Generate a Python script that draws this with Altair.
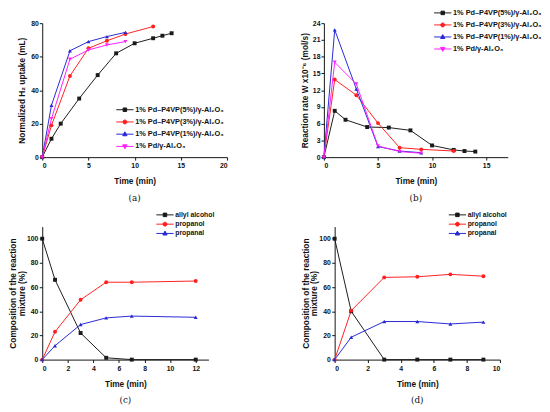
import json
import altair as alt
import pandas as pd

# ---------------- data ----------------
# (a) normalized H2 uptake
a_series = ["1% Pd–P4VP(5%)/γ-Al₂O₃", "1% Pd–P4VP(3%)/γ-Al₂O₃",
            "1% Pd–P4VP(1%)/γ-Al₂O₃", "1% Pd/γ-Al₂O₃"]
a_x5 = [0, 1, 2, 4, 6, 8, 10, 12, 13, 14]
a_y5 = [0, 11, 20, 35, 49, 62, 68, 71, 72.5, 74]
a_x3 = [0, 1, 3, 5, 7, 9, 12]
a_y3 = [0, 19, 48.5, 65, 69.5, 73.5, 78]
a_x1 = [0, 1, 3, 5, 7, 9]
a_y1 = [0, 31, 63.5, 69, 72, 74.5]
a_x0 = [0, 1, 3, 5, 7, 9]
a_y0 = [0, 23, 58.5, 64, 67, 69]

# (b) reaction rate
b_x5 = [0, 1, 2, 4, 6, 8, 10, 12, 13, 14]
b_y5 = [0, 8.3, 6.7, 5.4, 5.3, 4.8, 2.1, 1.3, 1.1, 1.0]
b_x3 = [0, 1, 3, 5, 7, 9, 12]
b_y3 = [0, 13.9, 11.1, 6.1, 1.7, 1.4, 1.1]
b_x1 = [0, 1, 3, 5, 7, 9]
b_y1 = [0, 22.8, 12.2, 1.9, 1.1, 0.8]
b_x0 = [0, 1, 3, 5, 7, 9]
b_y0 = [0, 17.0, 13.1, 2.0, 1.0, 0.7]

# (c), (d) composition
c_series = ["allyl alcohol", "propanol", "propanal"]
c_x = [0, 1, 3, 5, 7, 12]
c_allyl = [100, 66, 22, 1.5, 0, 0]
c_propanol = [0, 23, 49.5, 64, 64, 65]
c_propanal = [0, 11.5, 29, 34.5, 36, 35]
d_x = [0, 1, 3, 5, 7, 9]
d_allyl = [100, 40, 0, 0, 0, 0]
d_propanol = [0, 40.5, 68, 68.5, 70.5, 69]
d_propanal = [0, 18.5, 31.5, 31.5, 29.5, 31]

COLORS4 = ["#1a1a1a", "#ff1f1f", "#2727d6", "#ff1fff"]
COLORS3 = ["#1a1a1a", "#ff1f1f", "#2727d6"]
SHAPES4 = ["square", "circle", "triangle-up", "triangle-down"]
SHAPES3 = ["square", "circle", "triangle-up"]

# legend symbol paths: a line with a marker in the middle (unit = sqrt(size)/2)
LINE = "M-2.2,0H2.2"
MARK = {
    "square": "M-0.45,-0.45H0.45V0.45H-0.45Z",
    "circle": "M-0.5,0A0.5,0.5 0 1,0 0.5,0A0.5,0.5 0 1,0 -0.5,0Z",
    "triangle-up": "M0,-0.6L0.55,0.4L-0.55,0.4Z",
    "triangle-down": "M0,0.6L0.55,-0.4L-0.55,-0.4Z",
}

FONT = "Liberation Sans"


def long_df(xs, ys, names):
    rows = []
    for x_list, y_list, n in zip(xs, ys, names):
        for x, y in zip(x_list, y_list):
            rows.append({"x": x, "y": y, "series": n})
    return pd.DataFrame(rows)


def cond(series, vals):
    out = [{"test": "datum.value === " + json.dumps(s), "value": v}
           for s, v in zip(series[:-1], vals[:-1])]
    out.append({"value": vals[-1]})
    return out


def panel(df, series, colors, shapes, xdom, xticks, ydom, yticks, ytitle,
          w, h, lx, ly, lfs, lrow, label, ytpad, ylpad):
    paths = [LINE + MARK[s] for s in shapes]
    legend = alt.Legend(
        title=None, orient="none", legendX=lx, legendY=ly,
        labelFont=FONT, labelFontSize=lfs, labelFontWeight="bold",
        labelColor="#111", symbolSize=64, symbolStrokeWidth=1,
        labelOffset=6, rowPadding=lrow, padding=0, offset=0,
        labelLimit=300,
    )
    # custom per-entry legend symbols (line + marker)
    legend._kwds["encode"] = {"symbols": {"update": {
        "shape": cond(series, paths),
        "fill": cond(series, colors),
        "stroke": cond(series, colors),
        "strokeWidth": {"value": 1},
        "opacity": {"value": 1}}}}
    xenc = alt.X("x:Q", scale=alt.Scale(domain=xdom, nice=False, zero=False),
                 axis=alt.Axis(values=xticks, title="Time (min)", titlePadding=8))
    yenc = alt.Y("y:Q", scale=alt.Scale(domain=ydom, nice=False),
                 axis=alt.Axis(values=yticks, title=ytitle, titlePadding=ytpad,
                               labelPadding=ylpad, titleLineHeight=9))
    cenc = alt.Color("series:N", scale=alt.Scale(domain=series, range=colors),
                     legend=legend)
    base = alt.Chart(df)
    layers = [base.mark_line(strokeWidth=1).encode(x=xenc, y=yenc, color=cenc)]
    for s, shp in zip(series, shapes):
        layers.append(
            base.transform_filter(alt.datum.series == s)
            .mark_point(filled=True, size=16, opacity=1, shape=shp)
            .encode(x=xenc, y=yenc, color=cenc)
        )
    return alt.layer(*layers).properties(
        width=w, height=h,
        title=alt.TitleParams(label, orient="bottom", font="DejaVu Serif",
                              fontSize=9, fontWeight="normal", offset=9,
                              frame="group", color="#111"),
    )


dfa = long_df([a_x5, a_x3, a_x1, a_x0], [a_y5, a_y3, a_y1, a_y0], a_series)
dfb = long_df([b_x5, b_x3, b_x1, b_x0], [b_y5, b_y3, b_y1, b_y0], a_series)
dfc = long_df([c_x, c_x, c_x], [c_allyl, c_propanol, c_propanal], c_series)
dfd = long_df([d_x, d_x, d_x], [d_allyl, d_propanol, d_propanal], c_series)

pa = panel(dfa, a_series, COLORS4, SHAPES4, [0, 20], [0, 5, 10, 15, 20],
           [0, 80], [0, 20, 40, 60, 80], "Normalized H₂ uptake (mL)",
           189, 137, 80, 84, 7.5, 3.5, "(a)", 4, 1)
pb = panel(dfb, a_series, COLORS4, SHAPES4, [0, 17], [0, 5, 10, 15],
           [0, 24], [0, 3, 6, 9, 12, 15, 18, 21, 24],
           "Reaction rate W x10⁻⁶ (mol/s)",
           188, 137, 117, -15, 7.5, 3.3, "(b)", 3, 1)
comp_title = ["Composition of the reaction", "mixture (%)"]
pc = panel(dfc, c_series, COLORS3, SHAPES3, [0, 13], [0, 2, 4, 6, 8, 10, 12],
           [0, 110], [0, 20, 40, 60, 80, 100], comp_title,
           170, 136, 121, -16.5, 7, 0.5, "(c)", 0, 1.5)
pd_ = panel(dfd, c_series, COLORS3, SHAPES3, [0, 10], [0, 2, 4, 6, 8, 10],
            [0, 110], [0, 20, 40, 60, 80, 100], comp_title,
            169, 136, 121, -16.5, 7, 0.5, "(d)", 0, 1.5)

chart = alt.concat(
    pa, pb, pc, pd_, columns=2,
    spacing={"row": 7, "column": 74},
    align={"row": "each", "column": "none"},
).resolve_scale(color="independent").properties(
    padding={"left": 0, "top": -4, "right": 0, "bottom": 0},
    background="white",
).configure_view(strokeWidth=0).configure_axis(
    grid=False, domainColor="#111", tickColor="#111", labelColor="#111",
    titleColor="#111", labelFont=FONT, titleFont=FONT, labelFontSize=7,
    labelFontWeight="bold", titleFontSize=8.5, titleFontWeight="bold",
    tickSize=3, domainWidth=1, tickWidth=1,
)

# legend "encode" is supported by the Vega-Lite compiler but hidden from its
# public schema, so skip schema validation when serialising.
_orig_to_dict = chart.to_dict


def _to_dict(*args, **kwargs):
    kwargs["validate"] = False
    return _orig_to_dict(*args, **kwargs)


object.__setattr__(chart, "to_dict", _to_dict)

chart.save("out.html", embed_options={"renderer": "svg", "actions": False})
